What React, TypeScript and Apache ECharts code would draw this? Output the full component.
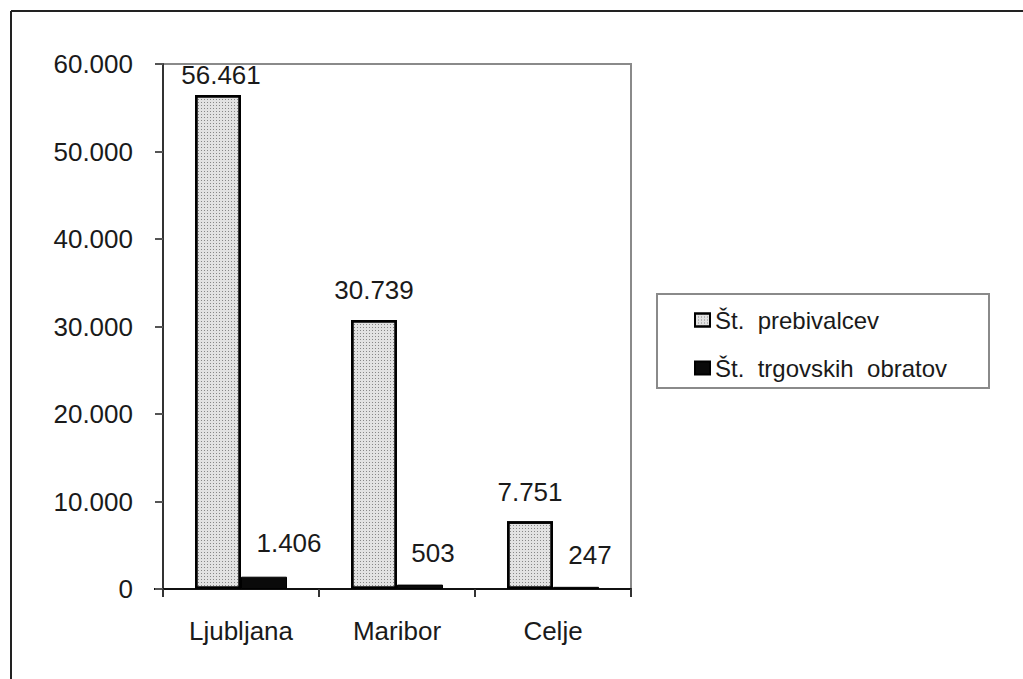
import React, { useEffect, useRef } from "react";
import * as echarts from "echarts";

const categories = ["Ljubljana", "Maribor", "Celje"];
const seriesNames = ["Št.  prebivalcev", "Št.  trgovskih  obratov"];
const prebivalci = [56461, 30739, 7751];
const obrati = [1406, 503, 247];
const yMin = 0;
const yMax = 60000;
const yStep = 10000;

const fmt = (v: number) => String(Math.round(v)).replace(/\B(?=(\d{3})+(?!\d))/g, ".");

const offsets1 = [[3, -7], [0, -17], [0, -16]];
const offsets2 = [[25, -21], [13, -19], [14, -19]];

const FONT = "'Liberation Sans', Arial, sans-serif";
const TXT = "#1a1a1a";

export default function App() {
  const ref = useRef<HTMLDivElement>(null);
  useEffect(() => {
    if (!ref.current) return;
    const chart = echarts.init(ref.current, undefined, { renderer: "svg" });
    const labelBase = {
      show: true,
      position: "top" as const,
      distance: 0,
      fontSize: 26,
      fontFamily: FONT,
      color: TXT,
      formatter: (p: any) => fmt(p.value),
    };
    chart.setOption({
      animation: false,
      backgroundColor: "#ffffff",
      textStyle: { fontFamily: FONT },
      grid: {
        left: 163,
        top: 64,
        width: 468,
        height: 525,
        show: true,
        borderColor: "#8a8a8a",
        borderWidth: 2,
        backgroundColor: "transparent",
      },
      xAxis: {
        type: "category",
        data: categories,
        axisLine: { show: true, lineStyle: { color: "#111", width: 2 } },
        axisTick: { show: true, alignWithLabel: false, length: 8, lineStyle: { color: "#333", width: 2 } },
        axisLabel: { fontSize: 26, color: TXT, margin: 29, fontFamily: FONT },
        splitLine: { show: false },
      },
      yAxis: {
        type: "value",
        min: yMin,
        max: yMax,
        interval: yStep,
        axisLine: { show: true, lineStyle: { color: "#333", width: 2 } },
        axisTick: { show: true, length: 8, lineStyle: { color: "#555", width: 2 } },
        axisLabel: { fontSize: 26, color: TXT, margin: 30, fontFamily: FONT, formatter: (v: number) => fmt(v) },
        splitLine: { show: false },
      },
      legend: {
        orient: "vertical",
        left: 694,
        top: 308,
        padding: 0,
        itemWidth: 15,
        itemHeight: 13,
        itemGap: 24,
        icon: "rect",
        textStyle: { fontSize: 24, lineHeight: 24, color: TXT, fontFamily: FONT },
        data: seriesNames,
      },
      graphic: [
        { type: "line", shape: { x1: 11, y1: 11, x2: 1023, y2: 11 }, style: { stroke: "#222", lineWidth: 2 } },
        { type: "line", shape: { x1: 11, y1: 11, x2: 11, y2: 679 }, style: { stroke: "#222", lineWidth: 2 } },
        { type: "rect", shape: { x: 657, y: 294, width: 332, height: 94 }, style: { fill: "none", stroke: "#8a8a8a", lineWidth: 2 } },
        { type: "line", shape: { x1: 154, y1: 589, x2: 163, y2: 589 }, style: { stroke: "#111", lineWidth: 2 } },
      ],
      series: [
        {
          name: seriesNames[0],
          type: "bar",
          barWidth: 46,
          barGap: "0%",
          itemStyle: {
            color: "#e2e2e2",
            borderColor: "#000",
            borderWidth: 2.5,
            decal: {
              symbol: "rect",
              symbolSize: 1,
              color: "rgba(60,60,60,0.55)",
              dashArrayX: [1, 2],
              dashArrayY: [1, 2],
              rotation: 0,
            },
          },
          data: prebivalci.map((v, i) => ({
            value: v,
            label: { ...labelBase, offset: offsets1[i] },
          })),
        },
        {
          name: seriesNames[1],
          type: "bar",
          barWidth: 46,
          barGap: "0%",
          itemStyle: { color: "#0a0a0a", borderColor: "#000", borderWidth: 1 },
          data: obrati.map((v, i) => ({
            value: v,
            label: { ...labelBase, offset: offsets2[i] },
          })),
        },
      ],
    });
    return () => chart.dispose();
  }, []);
  return (
    <div
      ref={ref}
      style={{ position: "absolute", left: 0, top: 0, width: 1023, height: 679, background: "#fff" }}
    />
  );
}
